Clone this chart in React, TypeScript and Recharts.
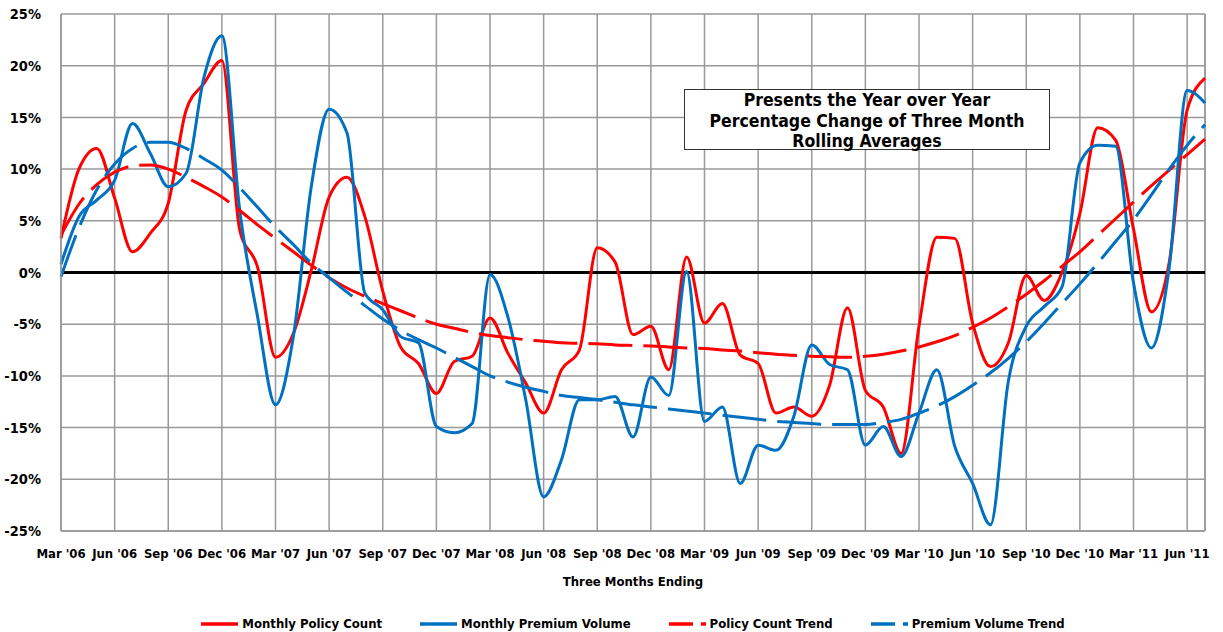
import { CartesianGrid, Line, LineChart, ReferenceLine, XAxis, YAxis } from 'recharts';

const months = [
    "Mar '06", "Apr '06", "May '06", "Jun '06", "Jul '06", "Aug '06", "Sep '06", "Oct '06", "Nov '06", "Dec '06",
    "Jan '07", "Feb '07", "Mar '07", "Apr '07", "May '07", "Jun '07", "Jul '07", "Aug '07", "Sep '07", "Oct '07",
    "Nov '07", "Dec '07", "Jan '08", "Feb '08", "Mar '08", "Apr '08", "May '08", "Jun '08", "Jul '08", "Aug '08",
    "Sep '08", "Oct '08", "Nov '08", "Dec '08", "Jan '09", "Feb '09", "Mar '09", "Apr '09", "May '09", "Jun '09",
    "Jul '09", "Aug '09", "Sep '09", "Oct '09", "Nov '09", "Dec '09", "Jan '10", "Feb '10", "Mar '10", "Apr '10",
    "May '10", "Jun '10", "Jul '10", "Aug '10", "Sep '10", "Oct '10", "Nov '10", "Dec '10", "Jan '11", "Feb '11",
    "Mar '11", "Apr '11", "May '11", "Jun '11", "Jul '11",
];

// percent, year over year change of 3 month rolling averages
const policyCount = [
    3.3, 10.0, 12.0, 7.2, 2.0, 3.8, 6.7, 15.7, 18.3, 20.5,
    4.1, 0.5, -8.2, -5.9, 0.2, 7.3, 9.2, 5.4, -1.8, -7.2,
    -8.8, -11.7, -8.6, -8.1, -4.4, -7.8, -10.7, -13.6, -9.4, -7.5,
    2.4, 1.0, -6.0, -5.2, -9.4, 1.5, -4.9, -3.0, -8.0, -8.8,
    -13.6, -13.0, -13.9, -10.9, -3.4, -11.4, -13.0, -17.5, -5.2, 3.4,
    3.3, -4.9, -9.1, -6.8, -0.3, -2.7, 0.0, 5.7, 14.0, 12.8,
    4.2, -3.8, 1.0, 15.7, 18.8,
];

const premiumVolume = [
    0.8, 5.4, 7.0, 8.9, 14.4, 11.5, 8.3, 9.6, 18.9, 22.9,
    6.0, -4.3, -12.8, -6.2, 8.3, 15.8, 13.5, -2.0, -3.6, -6.2,
    -6.8, -14.9, -15.5, -14.6, -0.2, -4.3, -12.3, -21.7, -18.1, -12.3,
    -12.3, -12.0, -15.9, -10.1, -11.9, 0.1, -14.4, -13.0, -20.4, -16.7,
    -17.2, -13.9, -7.0, -8.9, -9.4, -16.7, -14.9, -17.8, -13.6, -9.4,
    -16.8, -20.4, -24.4, -10.5, -5.2, -3.3, -1.4, 10.6, 12.3, 12.2,
    -1.0, -7.3, 0.5, 17.6, 16.4,
];

const policyTrend = [
    3.6, 6.6, 8.5, 9.7, 10.3, 10.4, 10.0, 9.2, 8.3, 7.3,
    6.0, 4.6, 3.3, 2.0, 0.7, -0.5, -1.5, -2.3, -3.0, -3.7,
    -4.4, -5.0, -5.4, -5.8, -6.1, -6.3, -6.5, -6.65, -6.8, -6.85,
    -6.9, -7.0, -7.05, -7.1, -7.2, -7.3, -7.35, -7.5, -7.6, -7.75,
    -7.9, -8.0, -8.1, -8.15, -8.2, -8.1, -7.9, -7.6, -7.2, -6.7,
    -6.1, -5.3, -4.4, -3.3, -2.1, -0.8, 0.6, 2.0, 3.6, 5.2,
    6.8, 8.4, 9.9, 11.4, 12.9,
];

const premiumTrend = [
    -0.4, 4.3, 8.0, 10.5, 12.0, 12.6, 12.6, 12.0, 11.0, 9.9,
    8.2, 6.3, 4.4, 2.7, 0.9, -0.5, -1.9, -3.2, -4.5, -5.6,
    -6.5, -7.3, -8.2, -9.1, -10.0, -10.6, -11.1, -11.5, -11.9, -12.1,
    -12.3, -12.55, -12.8, -13.0, -13.2, -13.4, -13.6, -13.8, -14.0, -14.2,
    -14.4, -14.5, -14.6, -14.7, -14.7, -14.7, -14.5, -14.2, -13.6, -12.9,
    -12.0, -10.9, -9.7, -8.3, -6.7, -4.9, -3.0, -1.1, 0.9, 3.0,
    5.1, 7.5, 10.0, 12.3, 14.3,
];

const yTicks = [-25, -20, -15, -10, -5, 0, 5, 10, 15, 20, 25];

const RED = '#FF0000';
const BLUE = '#0070C0';
const GRID = '#999999';
const FONT = '"DejaVu Sans Condensed", "DejaVu Sans", Verdana, sans-serif';

const series = [
    { key: 'policyCount', name: 'Monthly Policy Count', color: RED, dash: undefined },
    { key: 'premiumVolume', name: 'Monthly Premium Volume', color: BLUE, dash: undefined },
    { key: 'policyTrend', name: 'Policy Count Trend', color: RED, dash: '44 11' },
    { key: 'premiumTrend', name: 'Premium Volume Trend', color: BLUE, dash: '44 11' },
];

const chartData = months.map((month, i) => ({
    month,
    policyCount: policyCount[i],
    premiumVolume: premiumVolume[i],
    policyTrend: policyTrend[i],
    premiumTrend: premiumTrend[i],
}));

function LegendRow() {
    return (
        <div
            style={{
                position: 'absolute',
                left: 61,
                width: 1144,
                top: 615,
                display: 'flex',
                justifyContent: 'center',
                gap: 38,
                fontWeight: 'bold',
                fontSize: 13,
                lineHeight: '18px',
            }}
        >
            {series.map((s) => (
                <div key={s.key} style={{ display: 'flex', alignItems: 'center', gap: 4 }}>
                    <svg width={37} height={6}>
                        <line x1={0} y1={3} x2={37} y2={3} stroke={s.color} strokeWidth={3.5} strokeDasharray={s.dash ? '24 8' : undefined} />
                    </svg>
                    <span>{s.name}</span>
                </div>
            ))}
        </div>
    );
}

export default function App() {
    return (
        <div style={{ position: 'absolute', left: 0, top: 0, width: 1223, height: 632, background: '#fff', fontFamily: FONT }}>
            <LineChart width={1223} height={632} data={chartData} margin={{ top: 14, right: 18, left: 0, bottom: 41 }}>
                <CartesianGrid stroke={GRID} strokeWidth={1.5} />
                <XAxis
                    dataKey="month"
                    interval={2}
                    height={60}
                    tickLine={false}
                    tickMargin={12}
                    axisLine={{ stroke: GRID, strokeWidth: 1.5 }}
                    tick={{ fill: '#000', fontSize: 13, fontWeight: 'bold', fontFamily: FONT }}
                    label={{ value: 'Three Months Ending', position: 'insideBottom', offset: 5, fill: '#000', fontSize: 13, fontWeight: 'bold', fontFamily: FONT }}
                />
                <YAxis
                    type="number"
                    domain={[-25, 25]}
                    ticks={yTicks}
                    width={61}
                    tickLine={false}
                    tickMargin={14}
                    axisLine={{ stroke: GRID, strokeWidth: 1.5 }}
                    tickFormatter={(v: number) => `${v}%`}
                    tick={{ fill: '#000', fontSize: 14.5, fontWeight: 'bold', fontFamily: FONT }}
                />
                <ReferenceLine x="Jul '11" stroke={GRID} strokeWidth={1.5} />
                <ReferenceLine y={0} stroke="#000" strokeWidth={3} />
                {series.map((s) => (
                    <Line
                        key={s.key}
                        type="monotone"
                        dataKey={s.key}
                        name={s.name}
                        stroke={s.color}
                        strokeWidth={3}
                        strokeDasharray={s.dash}
                        dot={false}
                        activeDot={false}
                        isAnimationActive={false}
                    />
                ))}
            </LineChart>
            <LegendRow />
            <div
                style={{
                    position: 'absolute',
                    left: 684,
                    top: 89,
                    width: 364,
                    height: 59,
                    border: '1.5px solid #333',
                    background: '#fff',
                    textAlign: 'center',
                    fontWeight: 'bold',
                    fontSize: 17.5,
                    lineHeight: '20.5px',
                    color: '#000',
                }}
            >
                Presents the Year over Year
                <br />
                Percentage Change of Three Month
                <br />
                Rolling Averages
            </div>
        </div>
    );
}
